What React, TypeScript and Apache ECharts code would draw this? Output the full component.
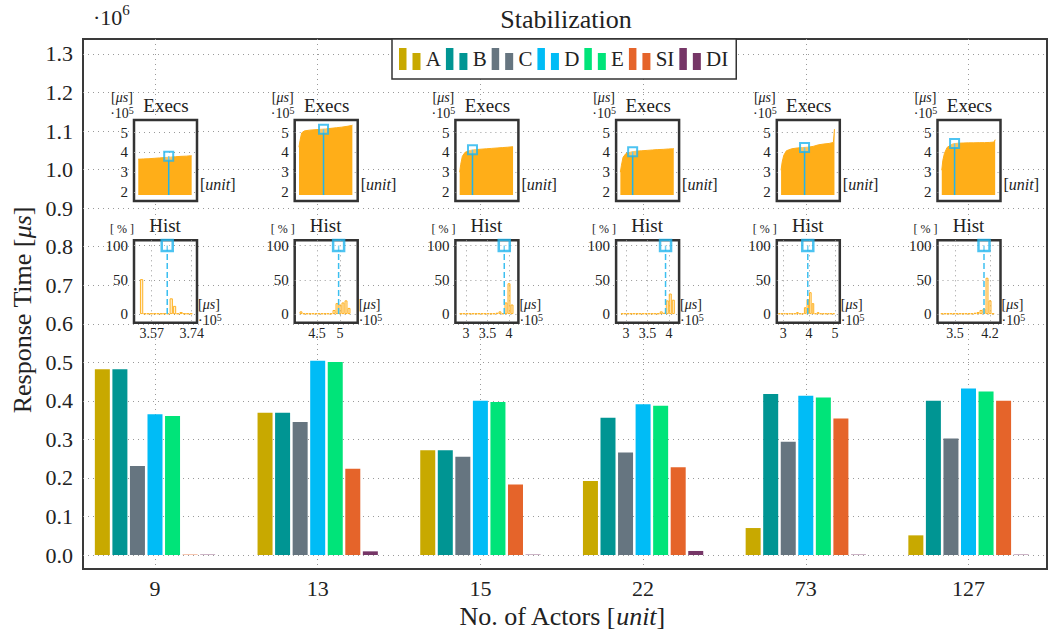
import React, { useEffect, useRef } from 'react';
import * as echarts from 'echarts';

// ---------- main chart data ----------
const categories = ['9', '13', '15', '22', '73', '127'];
const seriesNames = ['A', 'B', 'C', 'D', 'E', 'SI', 'DI'];
const seriesColors = ['#c8a900', '#009593', '#667580', '#00bcf6', '#00e479', '#e5642a', '#763667'];
const valuesA = [482000, 369000, 272000, 192000, 70000, 51000];
const valuesB = [482000, 369000, 272000, 356000, 418000, 400000];
const valuesC = [231000, 345000, 255000, 266000, 294000, 302000];
const valuesD = [365000, 504000, 400000, 391000, 413000, 432000];
const valuesE = [361000, 501000, 397000, 387000, 409000, 424000];
const valuesSI = [1000, 224000, 183000, 228000, 354000, 400000];
const valuesDI = [1000, 9500, 1000, 10500, 1000, 1000];
const seriesValues = [valuesA, valuesB, valuesC, valuesD, valuesE, valuesSI, valuesDI];
const yTicks = [0, 100000, 200000, 300000, 400000, 500000, 600000, 700000, 800000, 900000, 1000000, 1100000, 1200000, 1300000];

// ---------- "Execs" insets (values x10^5) ----------
const execsX = [0, 2, 5, 10, 20, 30, 40, 50, 60, 70, 80, 90, 98, 100];
const execs9 = [3.66, 3.66, 3.66, 3.67, 3.68, 3.70, 3.72, 3.74, 3.76, 3.78, 3.80, 3.81, 3.83, 3.83];
const execs13 = [4.26, 4.60, 4.98, 5.08, 5.12, 5.14, 5.16, 5.18, 5.21, 5.24, 5.27, 5.31, 5.35, 5.37];
const execs15 = [3.00, 3.40, 3.80, 4.00, 4.10, 4.14, 4.16, 4.18, 4.20, 4.22, 4.24, 4.26, 4.28, 4.28];
const execs22 = [3.00, 3.35, 3.75, 3.93, 4.02, 4.06, 4.08, 4.10, 4.12, 4.14, 4.15, 4.17, 4.18, 4.19];
const execs73 = [3.10, 3.50, 3.85, 4.08, 4.18, 4.22, 4.24, 4.26, 4.30, 4.38, 4.42, 4.45, 4.50, 5.17];
const execs127 = [3.10, 3.60, 3.95, 4.25, 4.42, 4.46, 4.47, 4.48, 4.48, 4.49, 4.49, 4.50, 4.52, 4.64];
const execsSeries = [execs9, execs13, execs15, execs22, execs73, execs127];
const execsMarkerX = [57, 46, 24, 23, 44, 24];
const execsMarkerY = [3.80, 5.17, 4.13, 4.03, 4.24, 4.45];
const execsTicks = [2, 3, 4, 5];
const execsBase = 1.85;

// ---------- "Hist" insets (x in 10^5 us, y in %) ----------
const histX9 = [3.527, 3.541, 3.555, 3.569, 3.583, 3.597, 3.611, 3.625, 3.639, 3.653, 3.667, 3.681, 3.695, 3.709, 3.723, 3.737];
const histY9 = [51, 1, 1, 1, 1, 1, 1, 1, 1, 23, 12, 1, 3, 1, 1, 1];
const histX13 = [4.152, 4.218, 4.283, 4.348, 4.413, 4.479, 4.544, 4.609, 4.674, 4.739, 4.805, 4.870, 4.935, 5.000, 5.065, 5.131, 5.196];
const histY13 = [4, 1, 1, 1, 1, 1, 1, 1, 1, 1, 1, 6, 16, 14, 17, 20, 9];
const histX15 = [2.88, 2.95, 3.02, 3.09, 3.16, 3.23, 3.30, 3.37, 3.44, 3.51, 3.58, 3.65, 3.72, 3.79, 3.86, 3.93, 4.00, 4.07];
const histY15 = [1, 1, 1, 1, 1, 1, 1, 1, 1, 1, 1, 1, 2, 4, 1, 17, 45, 14];
const histX22 = [2.91, 2.98, 3.05, 3.12, 3.19, 3.26, 3.33, 3.40, 3.47, 3.54, 3.61, 3.68, 3.75, 3.82, 3.89, 3.96, 4.03, 4.10];
const histY22 = [1, 1, 1, 1, 1, 1, 1, 1, 1, 1, 1, 1, 1, 4, 2, 20, 30, 21];
const histX73 = [2.85, 2.95, 3.05, 3.15, 3.25, 3.35, 3.45, 3.55, 3.65, 3.75, 3.85, 3.95, 4.05, 4.15, 4.25, 4.35, 4.45, 4.55, 4.65, 4.75, 4.85, 4.95];
const histY73 = [1, 1, 1, 1, 1, 1, 1, 3, 1, 1, 10, 22, 32, 16, 1, 3, 1, 1, 1, 1, 1, 1];
const histX127 = [3.24, 3.30, 3.36, 3.42, 3.48, 3.54, 3.60, 3.66, 3.72, 3.78, 3.84, 3.90, 3.96, 4.02, 4.08, 4.14, 4.20, 4.26];
const histY127 = [1, 1, 1, 1, 1, 1, 1, 1, 1, 1, 1, 2, 3, 6, 8, 53, 20, 1];
const histXs = [histX9, histX13, histX15, histX22, histX73, histX127];
const histYs = [histY9, histY13, histY15, histY22, histY73, histY127];
const histMin = [3.4948, 4.015, 2.753, 2.77, 2.75, 3.15];
const histMax = [3.7625, 5.385, 4.219, 4.235, 5.19, 4.41];
const histTicks = [[3.57, 3.74], [4.5, 5], [3, 3.5, 4], [3, 3.5, 4], [3, 4, 5], [3.5, 4.2]];
const histMarker = [3.636, 4.97, 3.89, 3.92, 3.95, 4.08];
const histYTicks = [0, 50, 100];

// ---------- styling / layout ----------
const SERIF = 'Liberation Serif, Times New Roman, serif';
const TXT = '#222';
const ORANGE = '#ffae18';
const BLUE = '#1fb4ee';
const DOT = { type: [1, 4] as any, color: '#9a9a9a', width: 1 };
const insetLeft = [134, 294.7, 455.4, 616.1, 776.8, 937.5];
const INSET_W = 63;
const EXECS_TOP = 120;
const EXECS_H = 81;
const HIST_TOP = 240.3;
const HIST_H = 82.5;

function richSet(size: number, supSize: number, lh: number) {
  return {
    n: { fontSize: size, fontFamily: SERIF, fill: TXT, lineHeight: lh },
    i: { fontSize: size, fontFamily: SERIF, fill: TXT, fontStyle: 'italic', lineHeight: lh },
    b: { fontSize: size, fontFamily: SERIF, fill: TXT, lineHeight: lh, verticalAlign: 'bottom' },
    s: { fontSize: supSize, fontFamily: SERIF, fill: TXT, lineHeight: lh, verticalAlign: 'top' },
  };
}

function txt(x: number, y: number, text: string, size: number, align = 'center', rotation = 0, lh = 0, supSize = 0) {
  const lineH = lh || Math.round(size * 1.2);
  return {
    type: 'text',
    x,
    y,
    rotation,
    z: 50,
    silent: true,
    style: {
      text,
      fill: TXT,
      fontSize: size,
      fontFamily: SERIF,
      lineHeight: lineH,
      align,
      textAlign: align,
      verticalAlign: 'middle',
      textVerticalAlign: 'middle',
      rich: richSet(size, supSize || Math.round(size * 0.7), lineH),
    },
  };
}

function buildOption() {
  const grid: any[] = [
    {
      left: 83, top: 39, right: 9, bottom: 66, show: true,
      borderColor: '#3a3a3a', borderWidth: 2, backgroundColor: 'transparent',
      outerBoundsMode: 'none',
    },
  ];
  const xAxis: any[] = [
    {
      type: 'value', gridIndex: 0, min: -0.4425, max: 5.4825,
      axisLine: { show: false },
      axisTick: { show: false, customValues: [0, 1, 2, 3, 4, 5] },
      axisLabel: {
        customValues: [0, 1, 2, 3, 4, 5],
        formatter: (v: number) => categories[Math.round(v)],
        fontSize: 22, fontFamily: SERIF, color: TXT, margin: 8,
      },
      splitLine: { show: true, lineStyle: DOT },
    },
  ];
  const yAxis: any[] = [
    {
      type: 'value', gridIndex: 0, min: -36300, max: 1338900,
      axisLine: { show: false },
      axisTick: { show: false, customValues: yTicks },
      axisLabel: {
        customValues: yTicks,
        formatter: (v: number) => (v / 1e6).toFixed(1),
        fontSize: 22, fontFamily: SERIF, color: TXT, margin: 10,
      },
      splitLine: { show: true, lineStyle: DOT },
    },
  ];
  const series: any[] = seriesNames.map((name, i) => ({
    type: 'bar',
    name,
    xAxisIndex: 0,
    yAxisIndex: 0,
    data: categories.map((_, j) => [j, seriesValues[i][j]]),
    barWidth: 15,
    barGap: '17%',
    itemStyle: { color: seriesColors[i] },
    z: 2,
  }));

  const graphic: any[] = [];

  // Execs insets
  for (let k = 0; k < 6; k++) {
    const gi = grid.length;
    const fl = insetLeft[k];
    grid.push({
      left: fl, top: EXECS_TOP, width: INSET_W, height: EXECS_H, show: true,
      backgroundColor: '#fff', borderColor: '#333', borderWidth: 2.5, z: 5,
      outerBoundsMode: 'none',
    });
    xAxis.push({ type: 'value', gridIndex: gi, min: -8, max: 110, show: false, z: 6 });
    yAxis.push({
      type: 'value', gridIndex: gi, min: 1.55, max: 5.63, z: 6,
      axisLine: { show: false },
      axisTick: { show: false, customValues: execsTicks },
      axisLabel: { customValues: execsTicks, fontSize: 15, fontFamily: SERIF, color: TXT, margin: 6 },
      splitLine: { show: true, lineStyle: DOT },
    });
    const xi = xAxis.length - 1;
    const yi = yAxis.length - 1;
    series.push({
      type: 'line', xAxisIndex: xi, yAxisIndex: yi, silent: true, z: 7,
      data: execsX.map((x, i) => [x, execsSeries[k][i]]),
      symbol: 'none',
      lineStyle: { color: ORANGE, width: 1 },
      itemStyle: { color: ORANGE },
      areaStyle: { color: ORANGE, opacity: 1, origin: execsBase },
    });
    series.push({
      type: 'line', xAxisIndex: xi, yAxisIndex: yi, silent: true, z: 8,
      data: [[execsMarkerX[k], execsBase], [execsMarkerX[k], execsMarkerY[k]]],
      symbol: 'none',
      lineStyle: { color: BLUE, width: 1.5 },
    });
    series.push({
      type: 'scatter', xAxisIndex: xi, yAxisIndex: yi, silent: true, z: 9,
      data: [[execsMarkerX[k], execsMarkerY[k]]],
      symbol: 'rect', symbolSize: 9,
      itemStyle: { color: 'rgba(255,255,255,0.35)', borderColor: BLUE, borderWidth: 2 },
    });
    graphic.push(txt(fl - 12, 105, '{n|[}{i|μs}{n|]}\n{b|·10}{s|5}', 14, 'center', 0, 15, 10));
    graphic.push(txt(fl + 32, 105, 'Execs', 19));
    graphic.push(txt(fl + 66, 184, '{n|[}{i|unit}{n|]}', 16, 'left'));
  }

  // Hist insets
  for (let k = 0; k < 6; k++) {
    const gi = grid.length;
    const fl = insetLeft[k];
    grid.push({
      left: fl, top: HIST_TOP, width: INSET_W, height: HIST_H, show: true,
      backgroundColor: '#fff', borderColor: '#333', borderWidth: 2.5, z: 5,
      outerBoundsMode: 'none',
    });
    xAxis.push({
      type: 'value', gridIndex: gi, min: histMin[k], max: histMax[k], z: 6,
      axisLine: { show: false },
      axisTick: { show: false, customValues: histTicks[k] },
      axisLabel: {
        customValues: histTicks[k],
        formatter: (v: number) => String(v),
        fontSize: 14, fontFamily: SERIF, color: TXT, margin: 4,
      },
      splitLine: { show: true, lineStyle: DOT },
    });
    yAxis.push({
      type: 'value', gridIndex: gi, min: -12.7, max: 107.6, z: 6,
      axisLine: { show: false },
      axisTick: { show: false, customValues: histYTicks },
      axisLabel: { customValues: histYTicks, fontSize: 15, fontFamily: SERIF, color: TXT, margin: 6 },
      splitLine: { show: true, lineStyle: DOT },
    });
    const xi = xAxis.length - 1;
    const yi = yAxis.length - 1;
    series.push({
      type: 'bar', xAxisIndex: xi, yAxisIndex: yi, silent: true, z: 7,
      data: histXs[k].map((x, i) => [x, histYs[k][i]]),
      barCategoryGap: '0%',
      itemStyle: { color: 'rgba(255,178,40,0.22)', borderColor: '#ffb224', borderWidth: 1 },
    });
    series.push({
      type: 'line', xAxisIndex: xi, yAxisIndex: yi, silent: true, z: 8,
      data: [[histMarker[k], 0], [histMarker[k], 100]],
      symbol: 'none',
      lineStyle: { color: '#3cbff0', width: 1.5, type: 'dashed' },
    });
    series.push({
      type: 'scatter', xAxisIndex: xi, yAxisIndex: yi, silent: true, z: 9,
      data: [[histMarker[k], 100]],
      symbol: 'rect', symbolSize: 11,
      itemStyle: { color: 'rgba(255,255,255,0.35)', borderColor: BLUE, borderWidth: 2.5 },
    });
    graphic.push(txt(fl - 12, 229, '[ % ]', 12));
    graphic.push(txt(fl + 31, 225, 'Hist', 19));
    graphic.push(txt(fl + 64, 312, '{n|[}{i|μs}{n|]}\n{b|·10}{s|5}', 14, 'left', 0, 15, 10));
  }

  // main texts
  graphic.push(txt(566, 19, 'Stabilization', 26));
  graphic.push(txt(93, 15, '{b|·10}{s|6}', 22, 'left', 0, 26, 15));
  graphic.push(txt(562, 616, '{n|No. of Actors [}{i|unit}{n|]}', 26));
  graphic.push(txt(22, 310, '{n|Response Time [}{i|μs}{n|]}', 26, 'center', Math.PI / 2));

  return {
    animation: false,
    backgroundColor: '#fff',
    textStyle: { fontFamily: SERIF },
    legend: {
      data: seriesNames,
      left: 392,
      top: 39,
      orient: 'horizontal',
      itemWidth: 22,
      itemHeight: 22,
      itemGap: 5,
      padding: [9, 8, 9, 7],
      borderColor: '#333',
      borderWidth: 1.5,
      borderRadius: 0,
      backgroundColor: '#fff',
      icon: 'path://M0,0H7.5V22H0Z M13.5,5H21.5V22H13.5Z',
      textStyle: { fontFamily: SERIF, fontSize: 21, color: TXT },
      selectedMode: false,
      z: 10,
    },
    grid,
    xAxis,
    yAxis,
    series,
    graphic: { elements: graphic },
  };
}

export default function App() {
  const ref = useRef<HTMLDivElement>(null);
  useEffect(() => {
    if (!ref.current) return;
    const chart = echarts.init(ref.current, null, { renderer: 'svg' });
    chart.setOption(buildOption() as any);
    return () => chart.dispose();
  }, []);
  return (
    <div
      ref={ref}
      style={{ position: 'fixed', left: 0, top: 0, width: 1056, height: 635, background: '#fff' }}
    />
  );
}
